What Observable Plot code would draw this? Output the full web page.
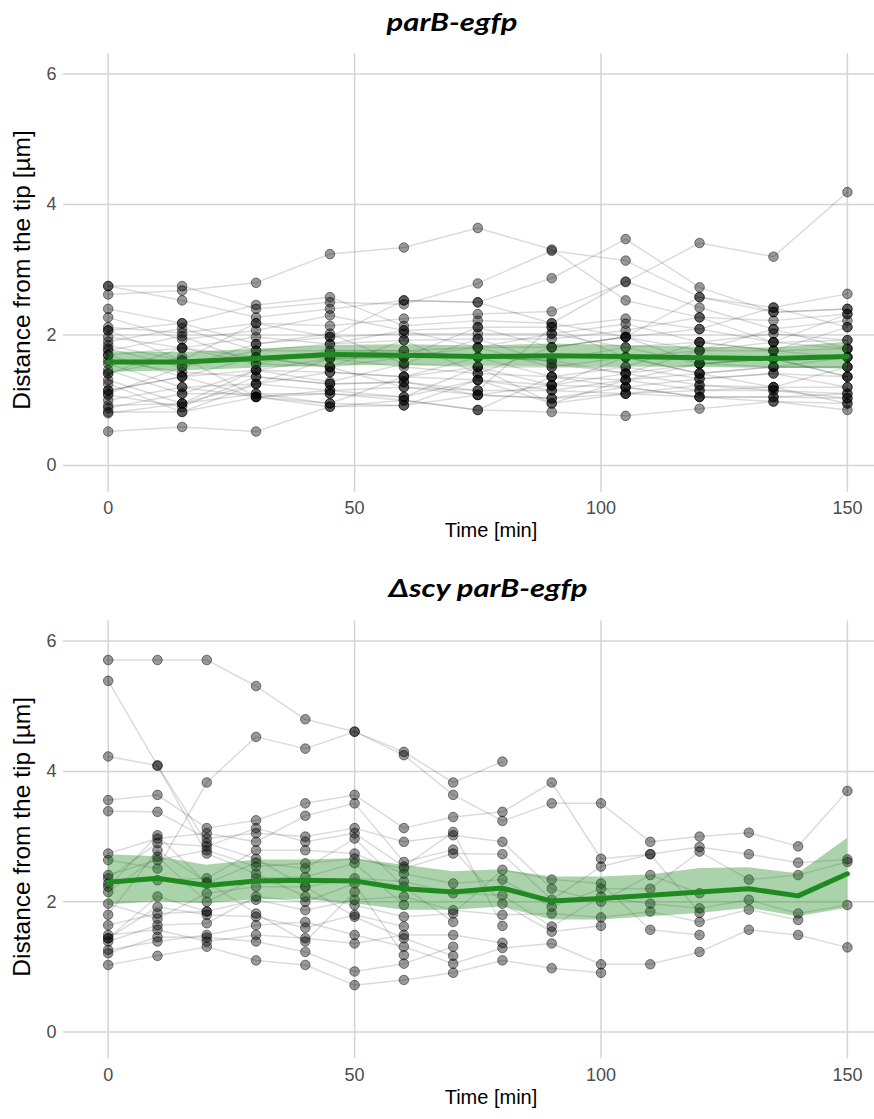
<!DOCTYPE html>
<html>
<head>
<meta charset="utf-8">
<script src="https://cdn.jsdelivr.net/npm/d3@7"></script>
<script src="https://cdn.jsdelivr.net/npm/@observablehq/plot@0.6"></script>
<style>
  html, body { margin: 0; padding: 0; background: white; overflow: hidden; }
  #wrap { position: relative; width: 874px; height: 1119px; }
  .ttl { position: absolute; font-family: Lato, "Open Sans", sans-serif; font-weight: 700; font-style: italic;
         font-size: 24px; line-height: 24px; white-space: nowrap; transform: translateX(-50%) scaleX(1.29); color: #000; }
  .chart { position: absolute; left: 0; }
</style>
</head>
<body>
<div id="wrap"></div>
<script>
// ---------- data ----------
const xTicks = [0, 50, 100, 150];
const yTicks = [0, 2, 4, 6];
const titleTop = "parB-egfp";
const titleBottom = "\u0394scy parB-egfp";
const xLabel = "Time [min]";
const yLabel = "Distance from the tip [\u00b5m]";

// top panel: parB-egfp, time points every 15 min
const topTimes = [0, 15, 30, 45, 60, 75, 90, 105, 120, 135, 150];
const topTracks = [
  [2.75, 2.75, 2.40, 2.50, 2.47, 2.79, 3.29, 3.14, 2.58, 2.42, 2.63],
  [2.62, 2.68, 2.80, 3.24, 3.34, 3.64, 3.31, 2.53, 2.27, 2.22, 2.32],
  [2.75, 2.53, 2.27, 2.40, 2.53, 2.50, 2.87, 3.47, 2.73, 2.35, 2.40],
  [2.12, 2.03, 2.18, 2.14, 2.25, 2.32, 2.36, 2.81, 3.41, 3.20, 4.19],
  [0.52, 0.59, 0.52, 0.90, 1.00, 0.85, 0.82, 0.76, 0.87, 0.98, 0.85],
  [2.40, 2.18, 2.46, 2.58, 2.14, 2.22, 2.18, 2.82, 2.42, 2.09, 2.22],
  [2.27, 1.93, 2.07, 2.30, 2.07, 2.12, 2.12, 2.25, 2.09, 2.42, 2.12],
  [2.07, 2.18, 1.86, 1.97, 2.02, 2.02, 2.02, 2.17, 1.89, 2.02, 1.92],
  [1.97, 1.80, 1.97, 1.86, 1.92, 1.94, 1.94, 2.07, 2.27, 1.89, 2.32],
  [1.90, 2.10, 1.76, 1.76, 1.76, 1.81, 1.81, 1.97, 1.76, 1.76, 1.79],
  [1.84, 1.61, 1.66, 1.64, 1.66, 1.66, 1.61, 1.81, 1.56, 1.64, 1.66],
  [1.79, 1.51, 1.86, 2.02, 1.56, 1.51, 1.51, 1.66, 1.41, 1.51, 1.51],
  [1.76, 1.98, 1.56, 1.51, 1.92, 1.41, 1.36, 1.51, 1.33, 1.41, 1.36],
  [1.69, 1.36, 1.46, 1.43, 1.36, 1.31, 1.23, 1.41, 1.23, 1.20, 1.20],
  [1.61, 1.43, 1.36, 1.25, 1.28, 1.15, 1.15, 1.31, 1.15, 1.15, 1.10],
  [1.56, 1.20, 1.25, 1.15, 1.20, 1.08, 1.03, 1.20, 1.05, 1.05, 1.03],
  [1.46, 1.10, 1.10, 1.10, 1.05, 1.51, 0.95, 1.10, 1.15, 1.20, 0.95],
  [1.41, 1.66, 1.05, 0.95, 1.36, 1.66, 1.36, 1.31, 1.56, 1.64, 1.36],
  [1.31, 0.95, 1.46, 1.28, 1.56, 1.94, 1.56, 1.41, 1.76, 2.09, 1.79],
  [1.25, 0.82, 1.25, 1.64, 1.66, 2.12, 1.81, 1.97, 2.09, 1.89, 1.92],
  [1.15, 1.36, 1.66, 1.51, 1.20, 1.15, 2.12, 1.66, 1.41, 1.51, 1.51],
  [1.10, 1.51, 1.76, 1.86, 2.07, 1.81, 1.51, 1.51, 1.89, 1.76, 1.66],
  [1.08, 0.90, 1.36, 1.25, 1.28, 1.08, 1.23, 1.20, 1.33, 1.41, 1.20],
  [1.00, 1.20, 1.05, 1.15, 1.05, 1.31, 1.15, 1.10, 1.05, 1.05, 1.10],
  [0.92, 0.95, 1.10, 0.95, 0.92, 1.08, 1.03, 1.10, 1.23, 1.15, 1.03],
  [0.88, 1.10, 1.46, 1.64, 1.51, 1.41, 1.81, 1.97, 1.56, 1.51, 1.66],
  [0.82, 0.82, 1.05, 0.90, 0.92, 1.31, 0.95, 1.31, 1.41, 1.20, 1.51],
  [0.80, 0.95, 1.25, 1.43, 1.36, 1.51, 1.23, 1.66, 1.76, 1.89, 1.79],
  [1.69, 1.80, 1.56, 1.76, 1.76, 1.66, 1.61, 1.41, 1.56, 1.64, 1.36],
  [2.07, 1.61, 2.18, 1.97, 2.53, 2.50, 2.18, 1.97, 2.58, 2.35, 2.40],
  [1.41, 1.80, 1.66, 1.51, 1.66, 1.81, 2.02, 1.81, 1.89, 1.76, 2.12],
  [1.15, 1.36, 1.05, 1.10, 1.00, 0.85, 1.36, 1.20, 1.05, 0.98, 0.95]
];
const topMean  = [1.585, 1.585, 1.64, 1.70, 1.69, 1.67, 1.68, 1.67, 1.65, 1.64, 1.67];
const topLower = [1.43, 1.45, 1.49, 1.53, 1.53, 1.52, 1.51, 1.51, 1.50, 1.49, 1.48];
const topUpper = [1.74, 1.73, 1.78, 1.84, 1.85, 1.83, 1.86, 1.84, 1.81, 1.80, 1.89];

// bottom panel: Δscy parB-egfp, time points every 10 min
const botTimes = [0, 10, 20, 30, 40, 50, 60, 70, 80, 90, 100, 110, 120, 130, 140, 150];
const botTracks = [
  [2.64, 2.51, 3.83, 4.53, 4.35, 4.61, 4.25, 3.64, 3.24, 3.51, 3.51, 2.92, 3.00, 3.06, 2.85, 3.70],
  [2.41, 2.64, 2.79, 2.54, 2.59, 2.66, 2.51, 2.74, 2.73, 2.03, 2.54, 2.73, 2.84, 2.73, 2.60, 2.65],
  [2.28, 2.33, 2.36, 2.79, 2.79, 2.74, 2.43, 2.28, 2.34, 1.92, 2.20, 2.20, 2.77, 2.34, 2.41, 2.61],
  [1.97, 1.74, 2.13, 2.23, 2.23, 2.36, 2.31, 2.13, 2.10, 1.62, 2.08, 1.97, 1.90, 2.03, 1.82, 1.95],
  [1.26, 1.39, 1.49, 1.64, 1.69, 1.49, 1.31, 1.05, 1.29, 1.36, 1.04, 1.04, 1.23, 1.57, 1.49, 1.30],
  [1.64, 1.82, 1.85, 2.03, 1.87, 2.03, 2.08, 1.87, 1.80, 1.82, 1.76, 1.85, 1.69, 1.88, 1.72],
  [4.23, 4.09, 2.74, 2.43, 2.08, 1.95, 1.77, 1.82, 2.49, 2.34, 2.28, 1.57, 1.49],
  [3.56, 3.64, 3.13, 3.25, 3.51, 3.64, 3.13, 3.30, 3.38, 3.83, 2.66, 2.73, 1.83],
  [3.39, 3.38, 2.97, 3.05, 3.00, 3.13, 2.92, 3.02, 2.92, 2.20, 2.00, 2.41, 2.13],
  [2.74, 2.97, 3.05, 2.92, 3.32, 3.51, 2.61, 2.80, 1.97, 1.54, 1.63],
  [1.03, 1.17, 1.31, 1.10, 1.03, 0.72, 0.80, 0.91, 1.10, 0.98, 0.91],
  [5.71, 5.71, 5.71, 5.31, 4.80, 4.61, 4.30, 3.83, 4.15],
  [2.36, 2.90, 2.85, 3.13, 2.92, 3.05, 2.54, 3.07, 1.63],
  [1.49, 1.57, 1.39, 1.49, 1.44, 1.36, 1.49, 1.49, 1.37],
  [5.39, 4.09, 2.90, 2.66, 2.23, 1.77, 1.44, 1.17],
  [2.23, 3.02, 2.28, 2.60, 2.51, 2.97, 2.23, 1.69],
  [1.21, 1.46, 1.45, 1.39, 1.23, 0.93, 1.05, 1.31],
  [2.15, 2.69, 2.00, 2.36, 2.38, 2.59, 1.95],
  [1.44, 1.92, 1.80, 1.77, 1.60, 1.80, 1.62],
  [1.39, 1.64, 1.67, 2.08, 2.00, 2.28, 1.18],
  [1.80, 2.79, 2.30, 1.82, 1.39, 2.15],
  [1.44, 2.08, 1.85]
];
const botMean  = [2.30, 2.36, 2.25, 2.32, 2.33, 2.32, 2.20, 2.15, 2.21, 2.01, 2.05, 2.10, 2.15, 2.20, 2.09, 2.43];
const botLower = [1.95, 2.00, 1.97, 2.03, 2.03, 1.97, 1.87, 1.87, 1.92, 1.72, 1.72, 1.77, 1.82, 1.90, 1.77, 1.90];
const botUpper = [2.72, 2.69, 2.56, 2.64, 2.64, 2.66, 2.56, 2.46, 2.49, 2.38, 2.38, 2.41, 2.51, 2.52, 2.43, 2.97];

// ---------- chart ----------
function panel(times, tracks, mean, lo, hi, height, mt, mb) {
  const pts = [];
  tracks.forEach((tr, id) => tr.forEach((v, i) => { if (v != null) pts.push({id, t: times[i], v}); }));
  const band = times.map((t, i) => ({t, m: mean[i], lo: lo[i], hi: hi[i]}));
  return Plot.plot({
    width: 874, height,
    marginLeft: 63, marginRight: 0, marginTop: mt, marginBottom: mb,
    x: {domain: [-9.07, 155.5]},
    y: {domain: [-0.41, 6.31]},
    style: {fontFamily: "'Liberation Sans', Arial, sans-serif", background: "white", overflow: "visible"},
    marks: [
      Plot.gridX(xTicks, {stroke: "#d4d4d4", strokeOpacity: 1, strokeWidth: 1.5}),
      Plot.gridY(yTicks, {stroke: "#d4d4d4", strokeOpacity: 1, strokeWidth: 1.5}),
      Plot.line(pts, {x: "t", y: "v", z: "id", stroke: "#000", strokeOpacity: 0.14, strokeWidth: 1.5}),
      Plot.dot(pts, {x: "t", y: "v", r: 4.8, fill: "#000", fillOpacity: 0.4, stroke: "#000", strokeOpacity: 0.5, strokeWidth: 0.9}),
      Plot.areaY(band, {x: "t", y1: "lo", y2: "hi", fill: "#228B22", fillOpacity: 0.38}),
      Plot.line(band, {x: "t", y: "m", stroke: "#1f8a1f", strokeWidth: 5}),
      Plot.axisX(xTicks, {tickSize: 0, tickPadding: 9, fontSize: 18, fill: "#4d4d4d", label: null, tickFormat: d => String(d)}),
      Plot.axisY(yTicks, {tickSize: 0, tickPadding: 7, fontSize: 18, fill: "#4d4d4d", label: null, tickFormat: d => String(d)}),
      Plot.text([xLabel], {frameAnchor: "bottom", dx: 22, dy: 45, fontSize: 20, fill: "#000"}),
      Plot.text([yLabel], {frameAnchor: "left", textAnchor: "middle", dx: -41, dy: -3, rotate: -90, fontSize: 24.5, fill: "#000"})
    ]
  });
}

const wrap = document.getElementById("wrap");
const c1 = panel(topTimes, topTracks, topMean, topLower, topUpper, 560, 53.3, 68.3);
c1.classList.add("chart"); c1.style.top = "0px";
const c2 = panel(botTimes, botTracks, botMean, botLower, botUpper, 559, 60.4, 60.7);
c2.classList.add("chart"); c2.style.top = "560px";
wrap.appendChild(c1);
wrap.appendChild(c2);

const t1 = document.createElement("div");
t1.className = "ttl"; t1.textContent = titleTop;
t1.style.left = "452px"; t1.style.top = "10px";
const t2 = document.createElement("div");
t2.className = "ttl"; t2.textContent = titleBottom;
t2.style.left = "488px"; t2.style.top = "576px";
wrap.appendChild(t1);
wrap.appendChild(t2);
</script>
</body>
</html>
